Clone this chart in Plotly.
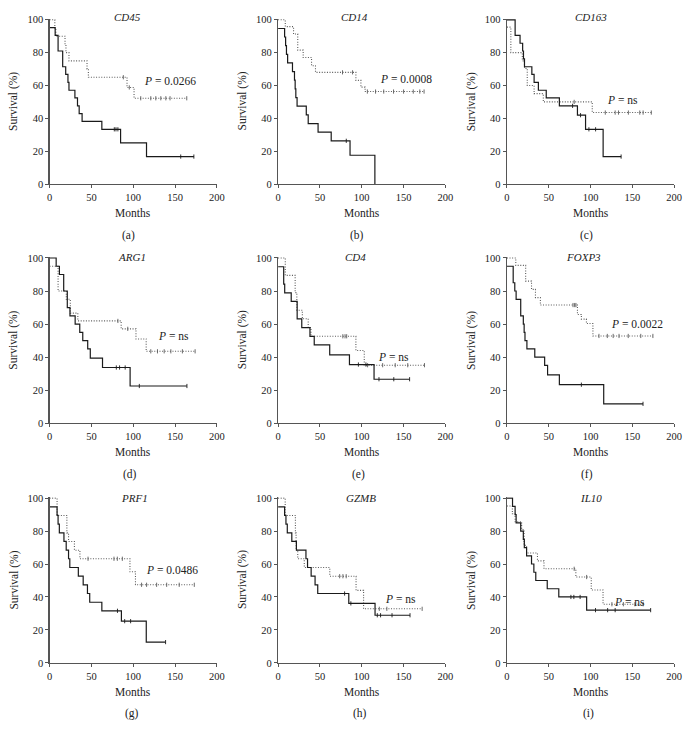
import plotly.graph_objects as go

# ------------------------------------------------------------------ data
panel_names = ["CD45", "CD14", "CD163", "ARG1", "CD4", "FOXP3", "PRF1", "GZMB", "IL10"]
panel_letters = ["(a)", "(b)", "(c)", "(d)", "(e)", "(f)", "(g)", "(h)", "(i)"]
p_values = ["0.0266", "0.0008", "ns", "ns", "ns", "0.0022", "0.0486", "ns", "ns"]

x_ticks = [0, 50, 100, 150, 200]
y_ticks = [0, 20, 40, 60, 80, 100]

# (a) CD45
cd45_solid_t = [0, 6.7, 10.2, 15.7, 19.3, 22, 23.2, 30.3, 33.4, 35.4, 38.9, 62.5, 84.9, 115.9]
cd45_solid_s = [95.2, 90.5, 81.0, 71.4, 66.7, 61.9, 57.1, 52.4, 47.6, 42.9, 38.1, 33.3, 25.0, 16.7]
cd45_solid_end = 172.5
cd45_solid_cens = [77.4, 79.4, 81.7, 156.8, 172.5]
cd45_dot_t = [0, 6.3, 7.5, 18.5, 19.6, 23.2, 44.8, 46.4, 92.6, 101]
cd45_dot_s = [100, 95, 90, 85, 80, 75, 70, 65, 58.8, 52.2]
cd45_dot_end = 164
cd45_dot_cens = [88.2, 95.3, 109, 121, 127, 133, 139, 144, 164]

# (b) CD14
cd14_solid_t = [0, 7.8, 9, 10, 11.4, 17.2, 19.6, 20.4, 21.2, 22.7, 33.7, 36, 47.8, 63.5, 86, 115.7]
cd14_solid_s = [94.7, 89.5, 84.2, 78.9, 73.7, 68.4, 63.2, 57.9, 52.6, 47.4, 42.1, 36.8, 31.6, 26.3, 17.5, 0]
cd14_solid_end = 115.7
cd14_solid_cens = [81.5]
cd14_dot_t = [0, 8.6, 18.5, 23.5, 30, 40, 44.7, 93, 99, 104]
cd14_dot_s = [100, 95.8, 91.3, 81.5, 77, 72, 68, 63.1, 59, 56.3]
cd14_dot_end = 174.5
cd14_dot_cens = [77, 89, 106.7, 116.5, 126.3, 138, 150, 161.6, 169.4, 174.5]

# (c) CD163
cd163_solid_t = [0, 9.8, 15.7, 18.8, 19.8, 21, 29.8, 32.5, 37.6, 47, 62.7, 84.3, 94, 115]
cd163_solid_s = [100, 90.5, 85.7, 81, 76.2, 71.4, 66.7, 61.9, 57.1, 52.4, 47.6, 41.9, 33.3, 16.7]
cd163_solid_end = 136.5
cd163_solid_cens = [78.5, 88, 98, 106, 136.5]
cd163_dot_t = [0, 4.7, 18.4, 21, 24.3, 32.5, 43.5, 102]
cd163_dot_s = [95.5, 80, 75, 70.4, 60, 55, 50, 43.5]
cd163_dot_end = 172.6
cd163_dot_cens = [80.4, 117.6, 129.4, 133.4, 145.2, 158.8, 162.8, 172.6]

# (d) ARG1
arg1_solid_t = [0, 7.9, 11.8, 16.9, 21.2, 24.4, 30.6, 36.1, 39.7, 45.6, 48.7, 63.3, 96.3]
arg1_solid_s = [100, 95, 90, 80, 70, 65, 60, 55, 50, 45, 39.4, 33.7, 22.5]
arg1_solid_end = 164.2
arg1_solid_cens = [79.8, 83.7, 90.4, 107.3, 164.2]
arg1_dot_t = [0, 10.2, 20, 24.8, 33.8, 85.6, 103.3, 115.5]
arg1_dot_s = [95, 80, 75, 66.6, 61.9, 57.1, 51, 43.5]
arg1_dot_end = 174
arg1_dot_cens = [81.7, 93.5, 121, 129, 137, 145, 158.8, 174]

# (e) CD4
cd4_solid_t = [0, 6.7, 7.9, 15.7, 22.8, 28.3, 38.1, 43.2, 61.7, 85.3, 114.7]
cd4_solid_s = [94.7, 84.2, 78.9, 73.7, 63.2, 57.9, 52.6, 47.4, 41.4, 35.5, 26.6]
cd4_solid_end = 157.2
cd4_solid_cens = [96, 105, 120.6, 138.3, 157.2]
cd4_dot_t = [0, 8.6, 20.4, 22.4, 29, 36, 39.3, 93, 103]
cd4_dot_s = [100, 89.5, 79, 68.4, 63.2, 57.9, 52.6, 44, 35.1]
cd4_dot_end = 175
cd4_dot_cens = [77.4, 80, 82, 107, 125, 140, 155, 175]

# (f) FOXP3
foxp3_solid_t = [0, 7.5, 9.4, 11, 16.5, 19.6, 20.6, 21.6, 23.9, 33.3, 45.1, 48.6, 62.7, 115.7]
foxp3_solid_s = [95, 85, 80, 75, 65, 60, 55, 50, 45, 40, 35, 29.2, 23.3, 11.7]
foxp3_solid_end = 162.7
foxp3_solid_cens = [89, 162.7]
foxp3_dot_t = [0, 10.6, 22.4, 29.4, 34.1, 40, 84.3, 89, 95, 102.8]
foxp3_dot_s = [100, 95.5, 86, 81, 76, 71.5, 65.8, 63, 60.3, 52.8]
foxp3_dot_end = 174.5
foxp3_dot_cens = [79, 81, 82.5, 110, 120, 127, 134, 145, 160, 174.5]

# (g) PRF1
prf1_solid_t = [0, 9, 10.2, 11.7, 17.2, 19.9, 22.7, 24.2, 34.4, 40.2, 45.3, 48, 62.5, 85.9, 115.6]
prf1_solid_s = [94.7, 89.5, 84.2, 78.9, 73.7, 68.4, 63.2, 57.9, 52.6, 47.4, 42.1, 36.8, 31.6, 25.3, 12.6]
prf1_solid_end = 138.7
prf1_solid_cens = [81.2, 89.8, 96.9, 138.7]
prf1_dot_t = [0, 9, 20.7, 22.7, 29.7, 36.3, 96.1, 102.7]
prf1_dot_s = [100, 89.5, 78.9, 73.7, 68.4, 63.2, 55.3, 47.4]
prf1_dot_end = 173
prf1_dot_cens = [46, 77, 81, 87, 110, 116, 128, 140, 155, 173]

# (h) GZMB
gzmb_solid_t = [0, 7.8, 9.4, 11, 16.4, 21.9, 33.3, 35.2, 39.5, 44.2, 47.4, 84.5, 115.9]
gzmb_solid_s = [94.7, 89.5, 84.2, 78.9, 73.7, 68.4, 63.2, 57.9, 52.6, 47.4, 42.1, 36.1, 28.9]
gzmb_solid_end = 157.7
gzmb_solid_cens = [79.5, 87, 118.6, 122.5, 136.2, 157.7]
gzmb_dot_t = [0, 8.5, 20.7, 21.5, 23.5, 31.3, 61.8, 93.2, 102.2]
gzmb_dot_s = [100, 89.5, 78.9, 68.4, 63.2, 57.9, 52.6, 44, 32.8]
gzmb_dot_end = 172.2
gzmb_dot_cens = [73.6, 77.5, 81.4, 121, 130, 172.2]

# (i) IL10
il10_solid_t = [0, 6.7, 9.8, 11, 16.5, 19.6, 20.8, 23.5, 29.4, 32.2, 34.5, 48.2, 62, 95.3]
il10_solid_s = [100, 95, 90, 85, 80, 75, 70, 65, 60, 55, 50, 45, 40, 32]
il10_solid_end = 171.8
il10_solid_cens = [76.5, 80, 87.5, 105.9, 120.4, 129.4, 171.8]
il10_dot_t = [0, 6.5, 9.8, 17.6, 20.5, 23.5, 36.5, 44.3, 82.4, 100.8, 114.9]
il10_dot_s = [95.2, 90.5, 85.7, 81, 71.4, 66.7, 61.9, 57.1, 52.1, 44.2, 35.6]
il10_dot_end = 162.8
il10_dot_cens = [80.4, 95.3, 125.5, 139.2, 153, 162.8]

solid_curves = [
    (cd45_solid_t, cd45_solid_s, cd45_solid_end, cd45_solid_cens),
    (cd14_solid_t, cd14_solid_s, cd14_solid_end, cd14_solid_cens),
    (cd163_solid_t, cd163_solid_s, cd163_solid_end, cd163_solid_cens),
    (arg1_solid_t, arg1_solid_s, arg1_solid_end, arg1_solid_cens),
    (cd4_solid_t, cd4_solid_s, cd4_solid_end, cd4_solid_cens),
    (foxp3_solid_t, foxp3_solid_s, foxp3_solid_end, foxp3_solid_cens),
    (prf1_solid_t, prf1_solid_s, prf1_solid_end, prf1_solid_cens),
    (gzmb_solid_t, gzmb_solid_s, gzmb_solid_end, gzmb_solid_cens),
    (il10_solid_t, il10_solid_s, il10_solid_end, il10_solid_cens),
]
dot_curves = [
    (cd45_dot_t, cd45_dot_s, cd45_dot_end, cd45_dot_cens),
    (cd14_dot_t, cd14_dot_s, cd14_dot_end, cd14_dot_cens),
    (cd163_dot_t, cd163_dot_s, cd163_dot_end, cd163_dot_cens),
    (arg1_dot_t, arg1_dot_s, arg1_dot_end, arg1_dot_cens),
    (cd4_dot_t, cd4_dot_s, cd4_dot_end, cd4_dot_cens),
    (foxp3_dot_t, foxp3_dot_s, foxp3_dot_end, foxp3_dot_cens),
    (prf1_dot_t, prf1_dot_s, prf1_dot_end, prf1_dot_cens),
    (gzmb_dot_t, gzmb_dot_s, gzmb_dot_end, gzmb_dot_cens),
    (il10_dot_t, il10_dot_s, il10_dot_end, il10_dot_cens),
]

# ------------------------------------------------------------------ layout settings
W, H = 697, 730
col_px = [(47.3, 217.3), (279.5, 449.5), (512.0, 682.0)]
row_px = [(15.0, 182.5), (256.5, 425.0), (500.0, 668.0)]
p_pos = [(110, 62), (119, 63), (117.6, 50), (127, 52), (116.7, 39),
         (122.4, 59.3), (112.5, 55.4), (125.3, 37.7), (125.5, 36.2)]
title_x = [93, 91, 100, 98.5, 93, 91, 101, 99, 100]
title_shift = [3, 3, 3, 1, 1, 1, 0.5, 0.5, 0.5]
letter_x = [0.473, 0.473, 0.473, 0.48, 0.48, 0.48, 0.49, 0.49, 0.49]

FONT = "Liberation Serif"
SOLID_COLOR = "#1a1a1a"
DOT_COLOR = "#5a5a5a"
AXIS_COLOR = "#555555"


def step_xy(t, s, end):
    xs, ys = list(t), list(s)
    if end is not None and end > t[-1]:
        xs.append(end)
        ys.append(s[-1])
    return xs, ys


def surv_at(t, s, c):
    idx = 0
    for i, ti in enumerate(t):
        if ti <= c:
            idx = i
    return s[idx]


fig = go.Figure()
annotations = []

for k in range(9):
    r, c = divmod(k, 3)
    ax = "" if k == 0 else str(k + 1)
    xa, ya = "x" + ax, "y" + ax
    x0, x1 = col_px[c]
    ytop, ybot = row_px[r]
    fig.layout["xaxis" + ax] = dict(
        domain=[x0 / W, x1 / W], range=[0, 200], anchor=ya,
        tickvals=x_ticks, ticks="outside", ticklen=3, tickwidth=1, tickcolor=AXIS_COLOR,
        showline=True, linecolor=AXIS_COLOR, linewidth=1.2, showgrid=False, zeroline=False,
        tickfont=dict(family=FONT, size=10.5, color="#222"), fixedrange=True,
    )
    fig.layout["yaxis" + ax] = dict(
        domain=[1 - ybot / H, 1 - ytop / H], range=[0, 100.6], anchor=xa,
        tickvals=y_ticks, ticks="outside", ticklen=3, tickwidth=1, tickcolor=AXIS_COLOR,
        showline=True, linecolor=AXIS_COLOR, linewidth=1.2, showgrid=False, zeroline=False,
        tickfont=dict(family=FONT, size=10.5, color="#222"), fixedrange=True,
    )

    for curves, color, dash, width in ((dot_curves, DOT_COLOR, "1px,1.6px", 1.1),
                                       (solid_curves, SOLID_COLOR, "solid", 1.2)):
        t, s, end, cens = curves[k]
        xs, ys = step_xy(t, s, end)
        fig.add_trace(go.Scatter(
            x=xs, y=ys, mode="lines", line=dict(shape="hv", color=color, width=width, dash=dash),
            xaxis=xa, yaxis=ya, showlegend=False, hoverinfo="skip",
        ))
        fig.add_trace(go.Scatter(
            x=cens, y=[surv_at(t, s, cc) for cc in cens], mode="markers",
            marker=dict(symbol="line-ns", size=3, line=dict(width=0.9, color=color)),
            xaxis=xa, yaxis=ya, showlegend=False, hoverinfo="skip", cliponaxis=False,
        ))

    dom_x, dom_y = xa + " domain", ya + " domain"
    annotations.append(dict(
        text="<i>" + panel_names[k] + "</i>", x=title_x[k], y=100, xref=xa, yref=ya,
        xanchor="center", yanchor="middle", yshift=title_shift[k], showarrow=False,
        font=dict(family=FONT, size=11, color="#222")))
    pv = p_values[k]
    annotations.append(dict(
        text="<i>P</i> = " + pv, x=p_pos[k][0], y=p_pos[k][1], xref=xa, yref=ya,
        xanchor="left", yanchor="middle", yshift=1.5, showarrow=False,
        font=dict(family=FONT, size=11.5, color="#222")))
    annotations.append(dict(
        text="Months", x=0.5, y=0, xref=dom_x, yref=dom_y, yshift=-29,
        xanchor="center", yanchor="middle", showarrow=False,
        font=dict(family=FONT, size=11.5, color="#222")))
    annotations.append(dict(
        text="Survival (%)", x=0, y=0.5, xref=dom_x, yref=dom_y, xshift=-36,
        xanchor="center", yanchor="middle", textangle=-90, showarrow=False,
        font=dict(family=FONT, size=11.5, color="#222")))
    annotations.append(dict(
        text=panel_letters[k], x=letter_x[k], y=0, xref=dom_x, yref=dom_y, yshift=-51,
        xanchor="center", yanchor="middle", showarrow=False,
        font=dict(family=FONT, size=11.5, color="#222")))

fig.update_layout(
    width=W, height=H, margin=dict(l=0, r=0, t=0, b=0),
    paper_bgcolor="white", plot_bgcolor="white",
    annotations=annotations, showlegend=False,
)

fig.write_html("out.html", config={"displayModeBar": False, "staticPlot": True},
               post_script="document.body.style.margin='0px';document.body.style.overflow='hidden';")
